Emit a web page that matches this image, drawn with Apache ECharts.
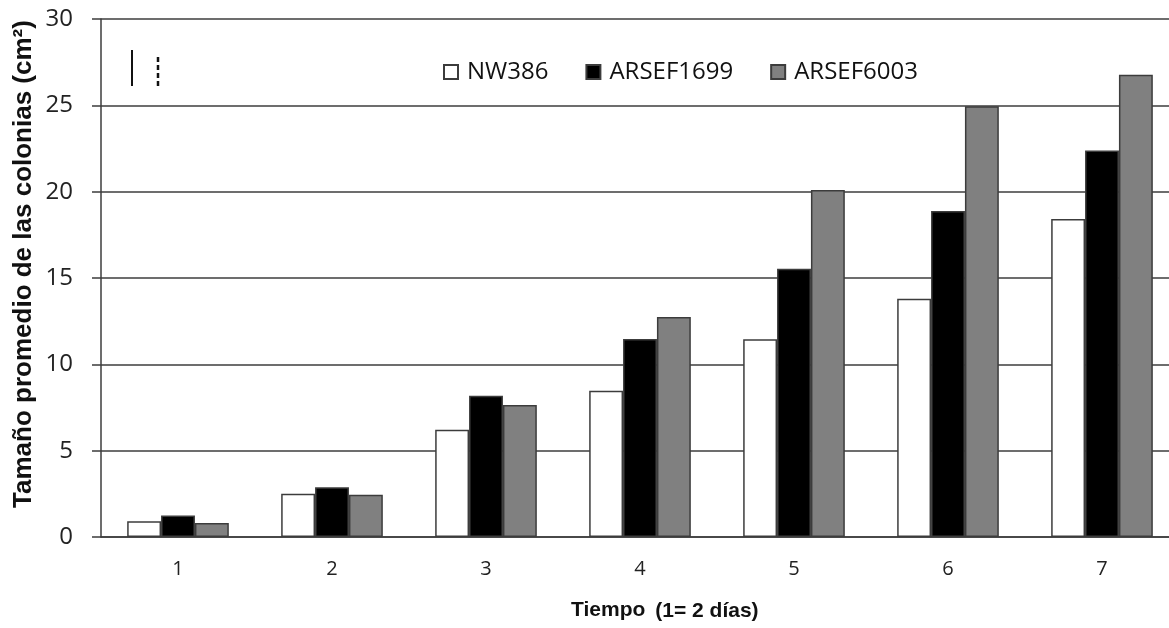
<!DOCTYPE html>
<html>
<head>
<meta charset="utf-8">
<script src="https://cdn.jsdelivr.net/npm/echarts@6/dist/echarts.min.js"></script>
<style>
html,body{margin:0;padding:0;background:#fff;}
#chart{width:1169px;height:628px;}
</style>
</head>
<body>
<div id="chart"></div>
<script>
var categories = ['1', '2', '3', '4', '5', '6', '7'];
var seriesNames = ['NW386', 'ARSEF1699', 'ARSEF6003'];
var nw386 = [0.91, 2.51, 6.21, 8.47, 11.45, 13.8, 18.41];
var arsef1699 = [1.24, 2.88, 8.18, 11.46, 15.54, 18.88, 22.39];
var arsef6003 = [0.81, 2.45, 7.64, 12.74, 20.09, 24.95, 26.77];
var yTicks = { min: 0, max: 30, interval: 5 };

var chart = echarts.init(document.getElementById('chart'));
var edge = '#3c3c3c';
function bar(name, data, color) {
  return {
    name: name, type: 'bar', data: data,
    barGap: '0%', barCategoryGap: '34%',
    itemStyle: { color: color, borderColor: edge, borderWidth: 1.5 }
  };
}
chart.setOption({
  animation: false,
  backgroundColor: '#fff',
  grid: { left: 101, top: 19, width: 1078, bottom: 91, containLabel: false, outerBoundsMode: 'none' },
  legend: {
    left: 438, top: 55,
    itemWidth: 14, itemHeight: 14, itemGap: 37,
    icon: 'rect',
    textStyle: { fontFamily: 'Open Sans', fontSize: 24, color: '#111', padding: [0, 0, 0, 4] },
    data: seriesNames
  },
  title: {
    left: 566, top: 594,
    text: '{a|Tiempo}  {b|(1= 2 días)}',
    textStyle: {
      rich: {
        a: { fontFamily: 'Liberation Sans', fontWeight: 'bold', fontSize: 21, color: '#111' },
        b: { fontFamily: 'Liberation Sans', fontWeight: 'bold', fontSize: 21, color: '#111', padding: [2, 0, 0, 0] }
      }
    }
  },
  xAxis: {
    type: 'category', data: categories,
    axisLine: { show: true, lineStyle: { color: edge, width: 1.5 } },
    axisTick: { show: false },
    axisLabel: { fontFamily: 'Open Sans', fontSize: 20, color: '#222', margin: 22 }
  },
  yAxis: {
    type: 'value', min: yTicks.min, max: yTicks.max, interval: yTicks.interval,
    axisLine: { show: true, lineStyle: { color: edge, width: 1.5 } },
    axisTick: { show: true, length: 9, inside: false, lineStyle: { color: edge, width: 1.5 } },
    splitLine: { show: true, lineStyle: { color: edge, width: 1.5 } },
    axisLabel: { fontFamily: 'Open Sans', fontSize: 24, color: '#222', margin: 28 }
  },
  graphic: [
    { type: 'text', x: 24, y: 264, rotation: Math.PI / 2,
      style: { text: 'Tamaño promedio de las colonias (cm²)', fontFamily: 'Liberation Sans', fontWeight: 'bold',
               fontSize: 26, fill: '#111', align: 'center', verticalAlign: 'middle' } },
    { type: 'line', shape: { x1: 132, y1: 50, x2: 132, y2: 86 }, style: { stroke: '#111', lineWidth: 2 } },
    { type: 'line', shape: { x1: 158, y1: 57, x2: 158, y2: 86 }, style: { stroke: '#111', lineWidth: 2.5, lineDash: [5, 3] } }
  ],
  series: [
    bar(seriesNames[0], nw386, '#ffffff'),
    bar(seriesNames[1], arsef1699, '#000000'),
    bar(seriesNames[2], arsef6003, '#808080')
  ]
});
</script>
</body>
</html>
